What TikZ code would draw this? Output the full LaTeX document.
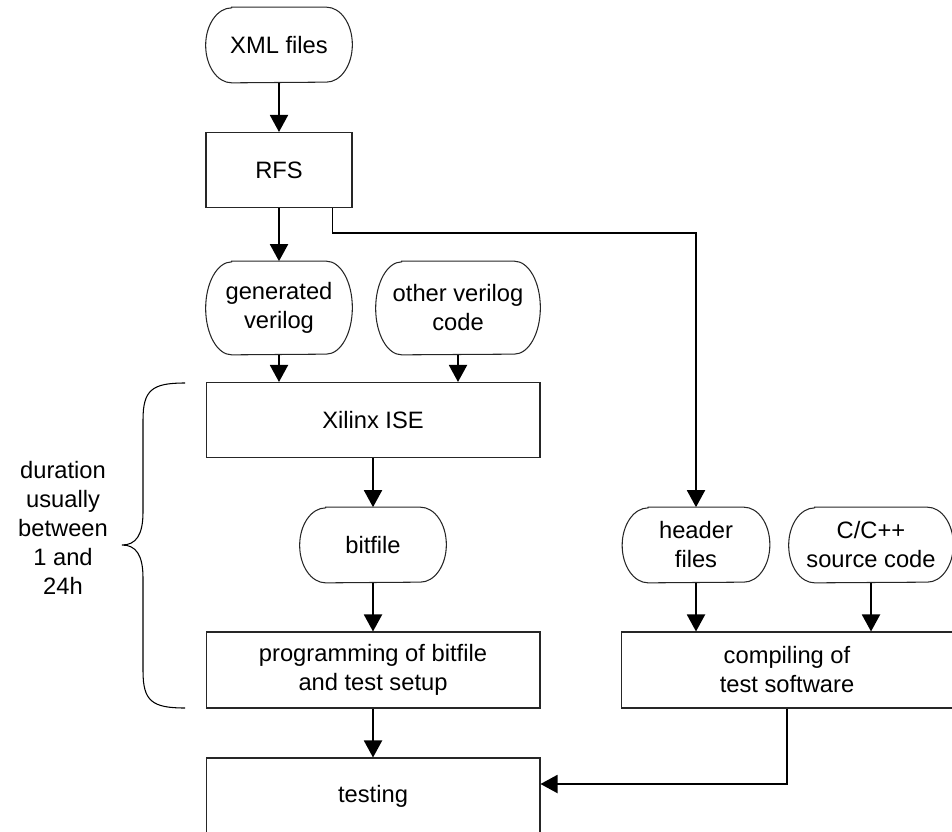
\documentclass[tikz,border=0pt]{standalone}
\usepackage{fontspec}
\setmainfont{Liberation Sans}
\usetikzlibrary{arrows.meta}

\begin{document}
\begin{tikzpicture}[x=0.02cm, y=-0.02cm,
		every node/.style={font=\fontsize{13.5}{16.5}\selectfont, align=center},
		procbox/.style={draw=black!85, line width=0.6pt, rectangle, minimum height=1.5cm, inner sep=0pt},
		databox/.style={rectangle, inner sep=0pt, minimum width=2.92cm, minimum height=2*#1,
			append after command={\pgfextra{\draw [black!85, line width=0.6pt]
				([xshift=0.52cm]\tikzlastnode.north west) -- ([xshift=-0.52cm]\tikzlastnode.north east)
				arc[start angle=90, end angle=-90, x radius=0.52cm, y radius=#1]
				-- ([xshift=0.52cm]\tikzlastnode.south west)
				arc[start angle=270, end angle=90, x radius=0.52cm, y radius=#1] -- cycle;}}},
		databox/.default=0.75cm,
		flow/.style={-{Triangle[length=0.34cm, width=0.36cm]}, line width=1.1pt}]
		\useasboundingbox (0,0) rectangle (952,831);
		
		\node [databox] (xml) at (279, 45) {XML files};
		\node [procbox, minimum width=2.92cm] (rfs) at (279, 170) {RFS};
		\node [databox=0.93cm] (genv) at (279, 308) {generated\\verilog};
		\node [databox=0.93cm, minimum width=3.28cm] (otherv) at (458, 308) {other verilog\\code};
		\node [procbox, minimum width=6.68cm] (xil) at (373, 420) {Xilinx ISE};
		\node [databox] (bit) at (373, 545) {bitfile};
		\node [procbox, minimum width=6.68cm, minimum height=1.52cm] (prog) at (373, 670) {programming of bitfile\\and test setup};
		\node [procbox, minimum width=6.68cm, minimum height=1.52cm] (test) at (373, 796) {testing};
		
		\node [databox, minimum width=2.94cm] (header) at (696, 545) {header\\files};
		\node [databox, minimum width=3.28cm] (csrc) at (871, 545) {C/C++\\source code};
		\node [procbox, minimum width=6.64cm, minimum height=1.52cm] (comp) at (787, 670) {compiling of\\test software};
		
		\node (dur) at (63, 528) {duration\\usually\\between\\1 and\\24h};
		
		\draw [flow] (xml) -- (rfs);
		\draw [flow] (rfs) -- (genv);
		\draw [flow] ([xshift=-0.4cm]rfs.south east) -- ++(0,25) -| (header.north);
		\draw [flow] (genv.south) -- (genv.south |- xil.north);
		\draw [flow] (otherv.south) -- (otherv.south |- xil.north);
		\draw [flow] (xil) -- (bit);
		\draw [flow] (bit) -- (prog);
		\draw [flow] (prog) -- (test);
		\draw [flow] (header.south) -- (header.south |- comp.north);
		\draw [flow] (csrc.south) -- (csrc.south |- comp.north);
		\draw [flow] (comp.south) |- ([yshift=0.24cm]test.east);
		
		% brace
		\draw [line width=0.6pt] (185,383) .. controls (152,383) and (143,390) .. (143,420) -- (143,512)
			.. controls (143,535) and (136,545) .. (122,545)
			.. controls (136,545) and (143,555) .. (143,578) -- (143,671)
			.. controls (143,701) and (152,708) .. (185,708);
		
		\end{tikzpicture}
\end{document}
